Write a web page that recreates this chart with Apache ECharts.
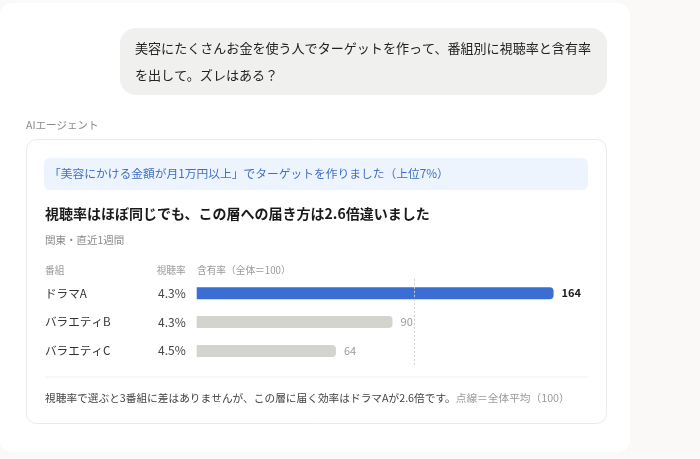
<!DOCTYPE html>
<html><head><meta charset="utf-8">
<script src="https://cdn.jsdelivr.net/npm/echarts@6/dist/echarts.min.js"></script>
<style>html,body{margin:0;padding:0;background:#faf9f7;}#c{width:700px;height:459px;}</style>
</head><body><div id="c"></div>
<script>
const programs = ['ドラマA', 'バラエティB', 'バラエティC'];
const viewRates = ['4.3%', '4.3%', '4.5%'];
const containRates = [164, 90, 64];
const averageIndex = 100;
const highlightIndex = 0;

const F = '"Noto Sans CJK JP", "Noto Sans", sans-serif';
const chart = echarts.init(document.getElementById('c'));

function txt(text, x, y, size, color, extra) {
  return Object.assign({
    type: 'text', x: x, y: y, silent: true,
    style: Object.assign({ text: text, fontSize: size, fontFamily: F, fill: color,
      textAlign: 'left', textVerticalAlign: 'middle' }, extra || {})
  });
}

chart.setOption({
  backgroundColor: '#faf9f7',
  animation: false,
  graphic: [
    { type: 'rect', z: -10, shape: { x: 0, y: 3, width: 630, height: 449, r: 12 }, style: { fill: '#ffffff' } },
    { type: 'rect', z: -9, shape: { x: 120, y: 28, width: 487, height: 67, r: 16 }, style: { fill: '#f0f0ef' } },
    txt('美容にたくさんお金を使う人でターゲットを作って、番組別に視聴率と含有率', 135, 48, 13.05, '#222'),
    txt('を出して。ズレはある？', 135, 75, 13.05, '#222'),
    txt('AIエージェント', 26, 125, 10.5, '#8a8a8a'),
    { type: 'rect', z: -9, shape: { x: 26.5, y: 139.5, width: 580, height: 284, r: 10 }, style: { fill: '#fff', stroke: '#ebebeb', lineWidth: 1 } },
    { type: 'rect', z: -8, shape: { x: 44, y: 158, width: 544, height: 32, r: 6 }, style: { fill: '#eef4fd' } },
    txt('「美容にかける金額が月1万円以上」でターゲットを作りました（上位7%）', 49, 174, 11.75, '#3f6fc6'),
    txt('視聴率はほぼ同じでも、この層への届き方は2.6倍違いました', 45, 214, 14, '#1a1a1a', { fontWeight: 'bold' }),
    txt('関東・直近1週間', 45, 240, 10.5, '#8a8a8a'),
    txt('番組', 45, 270, 9.7, '#9a9a9a'),
    txt('視聴率', 185.7, 270, 9.7, '#9a9a9a', { textAlign: 'right' }),
    txt('含有率（全体＝100）', 197, 270, 9.7, '#9a9a9a'),
    { type: 'rect', z: -8, shape: { x: 45, y: 376.5, width: 543, height: 1 }, style: { fill: '#efefef' } },
    {
      type: 'text', x: 45, y: 398, silent: true,
      style: {
        text: '{a|視聴率で選ぶと3番組に差はありませんが、この層に届く効率はドラマAが2.6倍です。}{b|点線＝全体平均（100）}',
        fontFamily: F, fontSize: 10.7, textVerticalAlign: 'middle',
        rich: {
          a: { fontFamily: F, fontSize: 10.7, fill: '#444', color: '#444' },
          b: { fontFamily: F, fontSize: 10.7, fill: '#9a9a9a', color: '#9a9a9a' }
        }
      }
    }
  ],
  grid: { left: 196.7, top: 278.8, width: 435.2, height: 86.5, containLabel: false },
  xAxis: { type: 'value', min: 0, max: 200, show: false },
  yAxis: {
    type: 'category', data: programs, inverse: true,
    axisLine: { show: false }, axisTick: { show: false }, splitLine: { show: false },
    axisLabel: {
      margin: 11,
      formatter: function (v, i) { return '{n|' + v + '}{r|' + viewRates[i] + '}'; },
      rich: {
        n: { width: 100.7, align: 'left', fontFamily: F, fontSize: 11.6, color: '#333' },
        r: { width: 40, align: 'right', fontFamily: F, fontSize: 12, color: '#444' }
      }
    }
  },
  series: [{
    type: 'bar', barWidth: 12,
    data: containRates.map(function (v, i) {
      const hi = i === highlightIndex;
      return {
        value: v,
        itemStyle: { color: hi ? '#3a6ed4' : '#d4d4cf', borderRadius: [0, 4, 4, 0] },
        label: { color: hi ? '#1a1a1a' : '#9a9a9a', fontWeight: hi ? 'bold' : 'normal' }
      };
    }),
    label: { show: true, position: 'right', distance: 8, fontFamily: F, fontSize: 11 },
    markLine: {
      silent: true, symbol: 'none',
      label: { show: false },
      lineStyle: { color: '#cfcfcf', type: [2, 2], width: 1 },
      data: [{ xAxis: averageIndex }]
    }
  }]
});
</script></body></html>
